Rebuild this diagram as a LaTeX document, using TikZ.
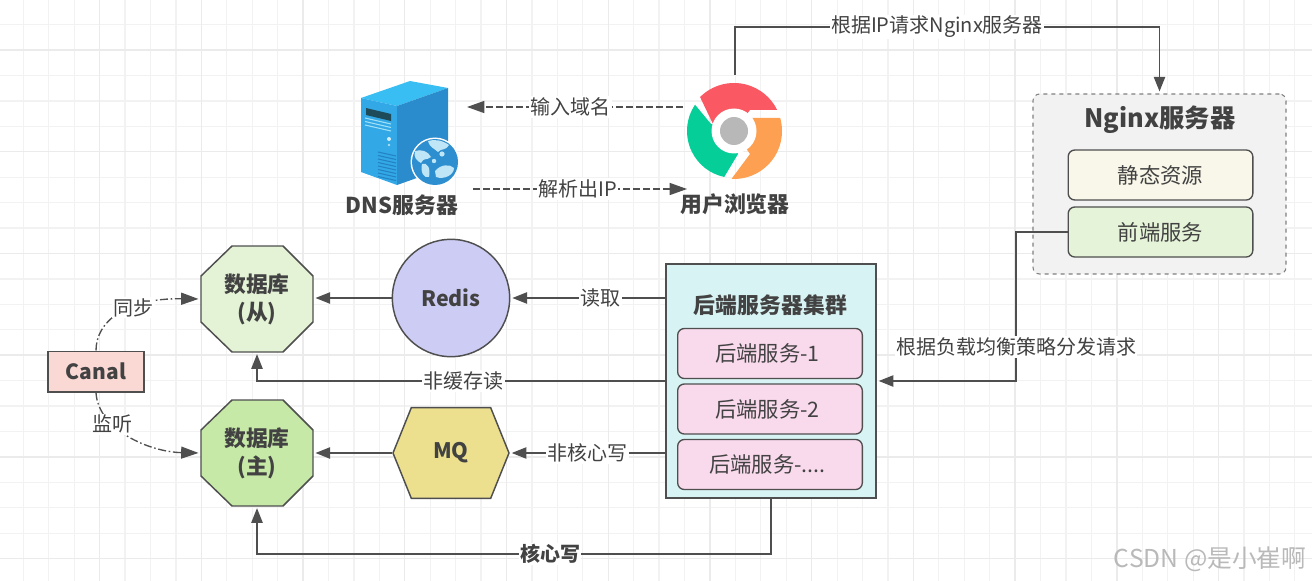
\documentclass[tikz,border=0pt]{standalone}
\usepackage{fontspec}
\setmainfont{Noto Sans CJK SC}
\usetikzlibrary{arrows.meta,shapes.symbols}

\definecolor{inkgray}{HTML}{424242}
\definecolor{linegray}{HTML}{4F4F4F}
\definecolor{gridminor}{HTML}{F2F2F2}
\definecolor{gridmajor}{HTML}{EBEBEB}
\definecolor{landblue}{HTML}{BFE6F7}
\definecolor{slavefill}{HTML}{E4F3D6}
\definecolor{masterfill}{HTML}{C6E9A7}

\tikzset{every picture/.style={line width=0.75pt}}
\tikzset{
  solidline/.style={draw=linegray,line width=1.1pt,-{Triangle[length=11pt,width=8.5pt]},shorten >=1.5pt},
  dashline/.style={draw=linegray,line width=1pt,-{Triangle[length=13pt,width=9pt]},dash pattern=on 5pt off 2.5pt},
  dotline/.style={draw=linegray,line width=1pt,-{Triangle[length=13pt,width=9pt]},shorten >=1.5pt,dash pattern=on 6pt off 2pt on 1.2pt off 2pt},
  linelabel/.style={fill=white,text=inkgray,inner sep=1pt,font=\fontsize{15}{17}\selectfont},
  panel/.style={draw=linegray,line width=1pt,rounded corners=5pt,minimum width=138.5pt,minimum height=37.5pt,text=inkgray,inner sep=0pt,font=\fontsize{16}{18}\selectfont},
  dbnode/.style={minimum width=84pt,minimum height=79pt,inner sep=0pt,align=center,text=inkgray,font=\fontsize{16.3}{21}\selectfont\bfseries},
  title/.style={text=inkgray,inner sep=0pt,font=\fontsize{16.4}{20}\selectfont\bfseries}
}

\begin{document}
\begin{tikzpicture}[x=0.75pt,y=0.75pt,yscale=-1,xscale=1]
\useasboundingbox (0,0) rectangle (1312,581);

% Grid
\foreach \k in {0,...,52} {
  \draw [gridminor,line width=0.9pt] ({-2.1+25.43*\k},0) -- ({-2.1+25.43*\k},581) ;
}
\foreach \k in {0,...,23} {
  \draw [gridminor,line width=0.9pt] (0,{-0.8+25.43*\k}) -- (1312,{-0.8+25.43*\k}) ;
}
\foreach \k in {0,...,12} {
  \draw [gridmajor,line width=1pt] ({-2.1+101.72*\k},0) -- ({-2.1+101.72*\k},581) ;
}
\foreach \k in {0,...,5} {
  \draw [gridmajor,line width=1pt] (0,{50+101.72*\k}) -- (1312,{50+101.72*\k}) ;
}

%Shape: Server icon
\fill [color={rgb, 255:red, 56; green, 190; blue, 242 }] (361,98) -- (410,81) -- (448,88) -- (397,106) -- cycle ;
\fill [color={rgb, 255:red, 50; green, 168; blue, 230 }] (361,98) -- (397,106) -- (397,185) -- (361,172) -- cycle ;
\fill [color={rgb, 255:red, 42; green, 140; blue, 204 }] (397,106) -- (448,88) -- (448,167) -- (397,185) -- cycle ;
\fill [color={rgb, 255:red, 30; green, 75; blue, 90 }] (366,108) -- (391,114) -- (391,121) -- (366,115) -- cycle ;
\foreach \k in {0,...,2} {
  \draw [color={rgb, 255:red, 160; green, 224; blue, 247 },line width=0.8pt] (365,{118+3.5*\k}) -- (391,{124+3.5*\k}) ;
}
\fill [white,opacity=0.8] (389,139) circle [radius=2] ;
\fill [white,opacity=0.6] (389,145) circle [radius=1.3] ;
\foreach \k in {0,...,7} {
  \draw [color={rgb, 255:red, 36; green, 130; blue, 195 },line width=0.8pt] (378,{152+3.5*\k}) -- (396,{156+3.5*\k}) ;
}
\fill [white] (435,162) circle [radius=24.5] ;
\fill [color={rgb, 255:red, 46; green, 143; blue, 208 }] (435,162) circle [radius=23] ;
\fill [landblue] (428,141) .. controls (434,139) and (442,140) .. (449,145) .. controls (446,151) and (441,148) .. (438,152) .. controls (434,148) and (430,148) .. (428,141) -- cycle ;
\fill [landblue] (415,151) .. controls (421,149) and (428,151) .. (431,157) .. controls (426,161) and (424,157) .. (421,163) .. controls (417,161) and (413,157) .. (415,151) -- cycle ;
\fill [landblue] (422,164) .. controls (427,162) and (431,168) .. (429,177) .. controls (424,179) and (420,172) .. (422,164) -- cycle ;
\fill [landblue] (435,171) .. controls (441,164) and (450,164) .. (454,168) .. controls (454,175) and (444,180) .. (436,177) -- cycle ;
\fill [landblue] (442,154) circle [radius=2.6] ;
\fill [landblue] (434,161) circle [radius=2.2] ;

%Shape: Browser icon
\begin{scope}[shift={(734,131)},yscale=-1]
\fill [color={rgb, 255:red, 250; green, 88; blue, 98 }] (135:48) arc [start angle=135,end angle=26,radius=48] -- (16,21) -- (0,0) -- (-21,7) -- cycle ;
\fill [color={rgb, 255:red, 6; green, 206; blue, 152 }] (146:47) arc [start angle=146,end angle=258,radius=47] -- (4,-23) -- (0,0) -- (-23,7) -- cycle ;
\fill [color={rgb, 255:red, 253; green, 160; blue, 82 }] (16:48) arc [start angle=16,end angle=-93,radius=48] -- (16,-23) -- (0,0) -- (17,13) -- cycle ;
\fill [white] (0,0) circle [radius=22.5] ;
\fill [color={rgb, 255:red, 184; green, 184; blue, 184 }] (0,0) circle [radius=14] ;
\end{scope}

%Shape: Octagons
\foreach \cy/\dbfill in {299/slavefill,453/masterfill} {
  \draw [draw=linegray,line width=1.1pt,fill=\dbfill] (232,{\cy-53}) -- (283,{\cy-53}) -- (313,{\cy-23}) -- (313,{\cy+23}) -- (283,{\cy+53}) -- (232,{\cy+53}) -- (201,{\cy+23}) -- (201,{\cy-23}) -- cycle ;
}

% Named ends
\coordinate (browserTop) at (735,75) ;
\coordinate (browserIn) at (683,107) ;
\coordinate (dnsIn) at (467,107) ;
\coordinate (dnsOut) at (473,189) ;
\coordinate (browserOut) at (687,189) ;
\coordinate (turnTop) at (937,27) ;
\coordinate (turnFront) at (1016,300) ;
\coordinate (turnCore) at (550,554) ;

% Nodes
\draw (1159.5,184) node [draw=gray,dashed,line width=0.8pt,fill={rgb, 255:red, 242; green, 242; blue, 243 },rounded corners=5pt,minimum width=189.75pt,minimum height=135pt,inner sep=0pt] (nginx) {} ;
\draw (1160,120) node [text=inkgray,inner sep=0pt,font=\fontsize{19}{22}\selectfont\bfseries] (nginxTitle) {Nginx服务器} ;
\draw (1160.5,175) node [panel,fill={rgb, 255:red, 249; green, 247; blue, 233 }] (staticRes) {静态资源} ;
\draw (1160.5,232) node [panel,fill={rgb, 255:red, 229; green, 243; blue, 216 }] (frontEnd) {前端服务} ;

\draw (771,381) node [draw=linegray,line width=1.1pt,fill={rgb, 255:red, 216; green, 243; blue, 243 },minimum width=157.5pt,minimum height=175.5pt,inner sep=0pt] (backend) {} ;
\draw (770.5,305) node [title] (backendTitle) {后端服务器集群} ;
\draw (770,353.5) node [panel,fill={rgb, 255:red, 249; green, 217; blue, 236 }] (serviceA) {\hspace*{-4pt}后端服务-1} ;
\draw (770,409) node [panel,fill={rgb, 255:red, 249; green, 217; blue, 236 }] (serviceB) {\hspace*{-4pt}后端服务-2} ;
\draw (770,464.5) node [panel,fill={rgb, 255:red, 249; green, 217; blue, 236 }] (serviceC) {\hspace*{-4pt}后端服务-....} ;

\draw (451,298) node [circle,draw=linegray,line width=1.1pt,fill={rgb, 255:red, 204; green, 204; blue, 245 },minimum size=88pt,inner sep=0pt,text=inkgray,font=\fontsize{16}{20}\selectfont\bfseries] (redis) {Redis} ;
\draw (451,453) node [signal,signal to=west and east,signal pointer angle=136,draw=linegray,line width=1.1pt,fill={rgb, 255:red, 236; green, 224; blue, 143 },minimum width=87pt,minimum height=68pt,inner sep=0pt,text=inkgray,font=\fontsize{16}{20}\selectfont\bfseries] (mq) {MQ} ;
\draw (257,299) node [dbnode] (slave) {数据库\\(从)} ;
\draw (257,453) node [dbnode] (master) {数据库\\(主)} ;
\draw (96,371.5) node [draw=linegray,line width=1pt,fill={rgb, 255:red, 250; green, 217; blue, 213 },minimum width=72pt,minimum height=30.5pt,inner sep=0pt,text=inkgray,font=\fontsize{15.7}{18}\selectfont\bfseries] (canal) {Canal} ;

% Text Node
\draw (402,205) node [title] (dnsLabel) {DNS服务器} ;
\draw (735,204) node [title] (browserLabel) {用户浏览器} ;
\draw (1210,559) node [text={rgb, 255:red, 185; green, 185; blue, 185 },inner sep=0pt,font=\fontsize{18.5}{22}\selectfont] (mark) {CSDN @是小崔啊} ;

%Straight Lines
\draw [dashline] (browserIn) -- node [linelabel,pos=0.52] {输入域名} (dnsIn) ;
\draw [dashline] (dnsOut) -- node [linelabel,pos=0.49] {解析出IP} (browserOut) ;
\draw [solidline] (browserTop) |- (turnTop) node [linelabel] {根据IP请求Nginx服务器} -| (nginx.north) ;
\draw [solidline] (frontEnd.west) -| (turnFront) |- (backend.east) ;
\draw [solidline] (redis.east -| backend.west) -- node [linelabel,pos=0.42] {读取} (redis.east) ;
\draw [solidline] (redis.west) -- (slave.east |- redis.west) ;
\draw [solidline] (backend.west) -| node [linelabel,pos=0.247] {非缓存读} (slave.south) ;
\draw [solidline] (mq.east -| backend.west) -- node [linelabel] {非核心写} (mq.east) ;
\draw [solidline] (mq.west) -- (master.east |- mq.west) ;
\draw [solidline] (backend.south) |- (turnCore) node [linelabel,font=\fontsize{15}{17}\selectfont\bfseries] {核心写} -| (master.south) ;
\draw [dotline] (canal.north) .. controls (96,322) and (125,298) .. node [linelabel,pos=0.62] {同步} (slave.west) ;
\draw [dotline] (canal.south) .. controls (98,430) and (150,452) .. node [linelabel,pos=0.33] {监听} (master.west) ;

\node [linelabel] (loadLabel) at (1016,347) {根据负载均衡策略分发请求} ;

\end{tikzpicture}
\end{document}
